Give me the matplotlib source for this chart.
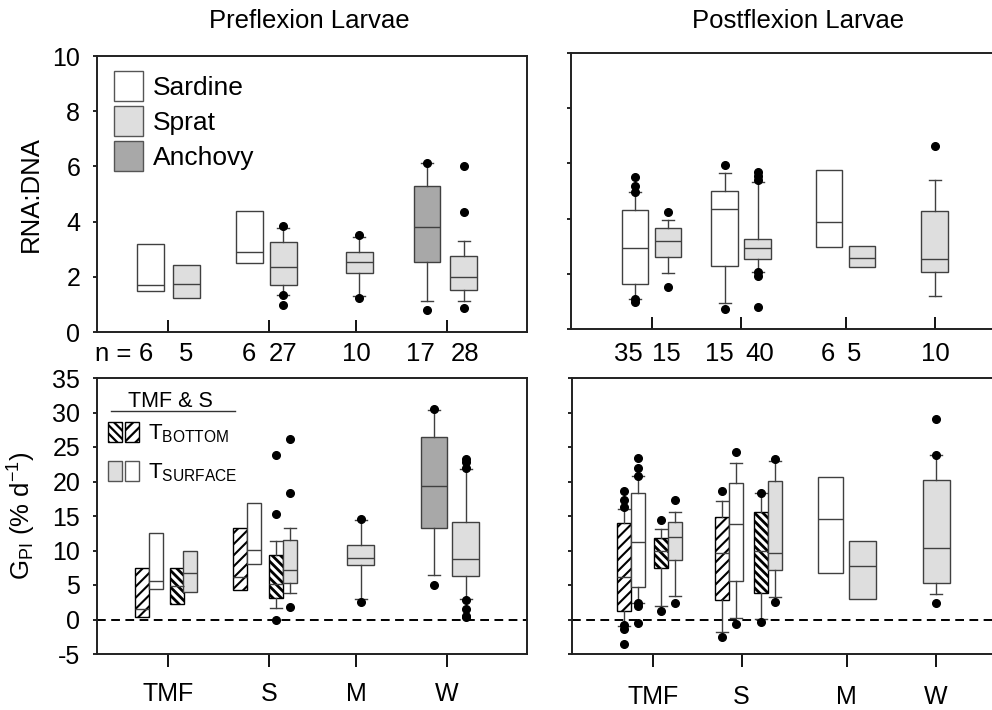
import numpy as np
import matplotlib.pyplot as plt
from matplotlib.patches import Patch
from matplotlib.legend_handler import HandlerTuple

plt.rcParams['font.family'] = ['Liberation Sans', 'DejaVu Sans']
plt.rcParams['mathtext.fontset'] = 'custom'
plt.rcParams['mathtext.rm'] = 'Liberation Sans'
plt.rcParams['mathtext.it'] = 'Liberation Sans:italic'
plt.rcParams['mathtext.bf'] = 'Liberation Sans:bold'
plt.rcParams['axes.unicode_minus'] = False
plt.rcParams['hatch.linewidth'] = 1.6

groups = ['TMF', 'S', 'M', 'W']

# ---- Preflexion, RNA:DNA
pre_rna_kind = ['sardine', 'sprat', 'sardine', 'sprat', 'sprat', 'anchovy', 'sprat']
pre_rna_n = ['6', '5', '6', '27', '10', '17', '28']
pre_rna_q1 = [1.49, 1.24, 2.49, 1.70, 2.14, 2.52, 1.52]
pre_rna_med = [1.69, 1.75, 2.90, 2.34, 2.52, 3.81, 2.00]
pre_rna_q3 = [3.19, 2.42, 4.39, 3.25, 2.89, 5.30, 2.75]
pre_rna_lo = [None, None, None, 1.35, 1.29, 1.11, 1.12]
pre_rna_hi = [None, None, None, 3.76, 3.46, 6.11, 3.30]
pre_rna_out = [[], [], [], [3.84, 1.33, 0.98], [3.52, 1.25], [6.14, 0.78],
               [6.0, 4.35, 0.88]]

# ---- Postflexion, RNA:DNA
post_rna_kind = ['sardine', 'sprat', 'sardine', 'sprat', 'sardine', 'sprat', 'sprat']
post_rna_n = ['35', '15', '15', '40', '6', '5', '10']
post_rna_q1 = [1.63, 2.61, 2.28, 2.55, 2.96, 2.24, 2.06]
post_rna_med = [2.95, 3.18, 4.34, 2.95, 3.88, 2.59, 2.53]
post_rna_q3 = [4.31, 3.66, 5.01, 3.27, 5.75, 3.02, 4.29]
post_rna_lo = [1.10, 2.02, 0.96, 2.08, None, None, 1.18]
post_rna_hi = [4.95, 3.96, 5.66, 5.34, None, None, 5.40]
post_rna_out = [[5.49, 5.19, 4.98, 1.08, 0.98], [4.24, 1.53], [5.93, 0.71],
                [5.70, 5.54, 5.40, 2.06, 1.93, 0.78], [], [], [6.63]]

# ---- Preflexion, GPI
pre_g_kind = ['sardine_b', 'sardine', 'sprat_b', 'sprat',
              'sardine_b', 'sardine', 'sprat_b', 'sprat',
              'sprat', 'anchovy', 'sprat']
pre_g_q1 = [0.4, 4.46, 2.2, 3.93, 4.26, 8.0, 3.15, 5.23, 7.83, 13.3, 6.3]
pre_g_med = [1.5, 5.6, 4.9, 6.73, 6.2, 10.05, 5.1, 7.2, 8.94, 19.3, 8.8]
pre_g_q3 = [7.5, 12.5, 7.45, 9.96, 13.2, 16.95, 9.33, 11.5, 10.73, 26.5, 14.16]
pre_g_lo = [None, None, None, None, None, None, 1.7, 3.78, 2.9, 6.5, 3.0]
pre_g_hi = [None, None, None, None, None, None, 11.36, 13.2, 14.35, 30.3, 21.8]
pre_g_out = [[], [], [], [], [], [], [23.85, 15.27, 0.0], [26.2, 18.35, 1.8],
             [14.5, 2.48], [30.56, 5.0], [23.3, 22.8, 21.97, 2.82, 1.47, 0.55, 0.3]]

# ---- Postflexion, GPI
post_g_kind = ['sardine_b', 'sardine', 'sprat_b', 'sprat',
               'sardine_b', 'sardine', 'sprat_b', 'sprat',
               'sardine', 'sprat', 'sprat']
post_g_q1 = [1.2, 4.75, 7.4, 8.58, 2.76, 5.6, 3.87, 7.2, 6.7, 2.9, 5.3]
post_g_med = [6.1, 11.2, 10.0, 12.0, 9.7, 13.8, 10.0, 9.7, 14.5, 7.7, 10.3]
post_g_q3 = [14.0, 18.4, 11.8, 14.15, 14.8, 19.8, 15.55, 20.07, 20.6, 11.4, 20.16]
post_g_lo = [-0.87, 2.38, 2.0, 3.4, -1.84, 0.24, 0.1, 3.25, None, None, 3.7]
post_g_hi = [16.04, 20.8, 13.1, 15.6, 17.2, 22.7, 18.3, 23.0, None, None, 23.8]
post_g_out = [[18.56, 17.3, 16.3, -0.8, -1.36, -3.5], [23.4, 21.96, 20.8, 2.4, 1.94, -0.53],
              [14.35, 1.2], [17.35, 2.4], [18.56, -2.47], [24.3, -0.6],
              [18.4, -0.4], [23.2, 2.5], [], [], [29.1, 23.9, 2.4]]

# layout (x positions in axis units)
pre_ticks = [0.71, 1.72, 2.59, 3.50]
post_ticks = [0.81, 1.695, 2.745, 3.64]
pre_rna_pos = [0.53, 0.89, 1.525, 1.86, 2.62, 3.30, 3.665]
post_rna_pos = [0.64, 0.97, 1.535, 1.865, 2.58, 2.91, 3.635]
pre_n_pos = [0.49, 0.895, 1.52, 1.86, 2.595, 3.23, 3.68]
post_n_pos = [0.575, 0.955, 1.485, 1.885, 2.565, 2.83, 3.64]
pre_g_pos = [0.45, 0.59, 0.795, 0.93, 1.43, 1.57, 1.79, 1.93, 2.635, 3.37, 3.685]
post_g_pos = [0.52, 0.66, 0.89, 1.025, 1.50, 1.64, 1.89, 2.025, 2.585, 2.905, 3.64]
half_w = [0.14] * 8

face = {'sardine': 'white', 'sprat': '#dedede', 'anchovy': '#a8a8a8',
        'sardine_b': 'white', 'sprat_b': 'white'}
hatch = {'sardine': None, 'sprat': None, 'anchovy': None,
         'sardine_b': '///', 'sprat_b': '\\\\\\\\'}
hatch_lw = {'sardine_b': 1.5, 'sprat_b': 2.0}
edge = '#404040'


def draw_boxes(ax, pos, widths, kind, q1, med, q3, lo, hi, out):
    stats = []
    for i in range(len(q1)):
        stats.append(dict(q1=q1[i], med=med[i], q3=q3[i],
                          whislo=q1[i] if lo[i] is None else lo[i],
                          whishi=q3[i] if hi[i] is None else hi[i],
                          fliers=out[i]))
    bp = ax.bxp(stats, positions=pos, widths=widths, patch_artist=True,
                manage_ticks=False, capwidths=0.12,
                boxprops=dict(edgecolor=edge, linewidth=1.0),
                medianprops=dict(color=edge, linewidth=1.0),
                whiskerprops=dict(color=edge, linewidth=1.0),
                capprops=dict(color=edge, linewidth=1.0),
                flierprops=dict(marker='o', markerfacecolor='black',
                                markeredgecolor='black', markersize=5.5))
    for i, (box, k) in enumerate(zip(bp['boxes'], kind)):
        box.set_facecolor(face[k])
        if hatch[k]:
            box.set_hatch(hatch[k])
            box.set_edgecolor('black')
            if hasattr(box, 'set_hatch_linewidth'):
                box.set_hatch_linewidth(hatch_lw[k])
        if lo[i] is None:
            bp['caps'][2 * i].set_visible(False)
            bp['caps'][2 * i + 1].set_visible(False)
    return bp


W, H = 992, 710
fig = plt.figure(figsize=(W / 100, H / 100), dpi=100)


def px_axes(x0, y0, x1, y1):
    return fig.add_axes([x0 / W, 1 - y1 / H, (x1 - x0) / W, (y1 - y0) / H])


ax_tl = px_axes(97, 56, 527, 332)
ax_tr = px_axes(571, 53, 1001, 329)
ax_bl = px_axes(97, 378, 527, 654)
ax_br = px_axes(572, 378, 1002, 654)

draw_boxes(ax_tl, pre_rna_pos, 0.27, pre_rna_kind, pre_rna_q1, pre_rna_med,
           pre_rna_q3, pre_rna_lo, pre_rna_hi, pre_rna_out)
draw_boxes(ax_tr, post_rna_pos, 0.265, post_rna_kind, post_rna_q1, post_rna_med,
           post_rna_q3, post_rna_lo, post_rna_hi, post_rna_out)
draw_boxes(ax_bl, pre_g_pos, half_w + [0.27, 0.26, 0.27], pre_g_kind, pre_g_q1,
           pre_g_med, pre_g_q3, pre_g_lo, pre_g_hi, pre_g_out)
draw_boxes(ax_br, post_g_pos, half_w + [0.25, 0.27, 0.27], post_g_kind, post_g_q1,
           post_g_med, post_g_q3, post_g_lo, post_g_hi, post_g_out)

for ax in (ax_tl, ax_tr, ax_bl, ax_br):
    ax.set_xlim(0, 4.3)
    for s in ax.spines.values():
        s.set_linewidth(1.4)
        s.set_color('#202020')
    ax.tick_params(axis='y', direction='out', length=3, width=1.2, labelsize=18, pad=9)

for ax in (ax_tl, ax_tr):
    ax.set_ylim(0, 10)
    ax.set_yticks(np.arange(0, 11, 2))
    ax.tick_params(axis='x', direction='in', length=9, width=1.3, labelbottom=False)
for ax in (ax_bl, ax_br):
    ax.set_ylim(-5, 35)
    ax.set_yticks(np.arange(-5, 36, 5))
    ax.axhline(0, color='black', lw=1.4, ls=(0, (4.5, 2.8)), zorder=0)

ax_tl.set_xticks(pre_ticks)
ax_bl.set_xticks(pre_ticks)
ax_tr.set_xticks(post_ticks)
ax_br.set_xticks(post_ticks)
ax_bl.set_xticklabels(groups)
ax_br.set_xticklabels(groups)
ax_bl.tick_params(axis='x', direction='out', length=9, width=1.3, labelsize=18, pad=11)
ax_br.tick_params(axis='x', direction='out', length=9, width=1.3, labelsize=18, pad=13)
ax_tr.tick_params(axis='y', labelleft=False)
ax_br.tick_params(axis='y', labelleft=False)

ax_tl.set_ylabel('RNA:DNA', fontsize=18.5)
ax_tl.yaxis.set_label_coords(-0.125, 0.5)
ax_bl.set_ylabel(r'G$_{\mathrm{PI}}$ (% d$^{\mathrm{-1}}$)', fontsize=18.5)
ax_bl.yaxis.set_label_coords(-0.137, 0.5)

# sample sizes
for x, n in zip(pre_n_pos, pre_rna_n):
    ax_tl.text(x, -0.08, n, transform=ax_tl.get_xaxis_transform(),
               ha='center', va='center', fontsize=18.5)
ax_tl.text(pre_n_pos[0] - 0.075, -0.08, 'n = ', transform=ax_tl.get_xaxis_transform(),
           ha='right', va='center', fontsize=18.5)
for x, n in zip(post_n_pos, post_rna_n):
    ax_tr.text(x, -0.09, n, transform=ax_tr.get_xaxis_transform(),
               ha='center', va='center', fontsize=18.5)

fig.text(309.5 / W, 1 - 21 / H, 'Preflexion Larvae', ha='center', va='center', fontsize=18.5)
fig.text(798 / W, 1 - 21 / H, 'Postflexion Larvae', ha='center', va='center', fontsize=18.5)

# species legend
sp_handles = [Patch(facecolor=face[k], edgecolor='#555555', lw=1.0)
              for k in ('sardine', 'sprat', 'anchovy')]
ax_tl.legend(sp_handles, ['Sardine', 'Sprat', 'Anchovy'], loc='upper left',
             bbox_to_anchor=(0.0395, 0.945), frameon=False, fontsize=19,
             handlelength=1.1, handleheight=1.35, handletextpad=0.38,
             labelspacing=0.2, borderpad=0, borderaxespad=0)

# temperature legend
h_bot = (Patch(facecolor='white', edgecolor='black', hatch='\\\\\\\\', lw=1.0),
         Patch(facecolor='white', edgecolor='black', hatch='///', lw=1.0))
h_surf = (Patch(facecolor=face['sprat'], edgecolor='#555555', lw=1.0),
          Patch(facecolor='white', edgecolor='#555555', lw=1.0))
ax_bl.legend([h_bot, h_surf], [r'T$_{\mathrm{BOTTOM}}$', r'T$_{\mathrm{SURFACE}}$'],
             handler_map={tuple: HandlerTuple(ndivide=None, pad=0.14)},
             loc='upper left', bbox_to_anchor=(0.0256, 0.842), frameon=False,
             fontsize=16, handlelength=1.4, handleheight=1.05, handletextpad=0.4,
             labelspacing=0.7, borderpad=0, borderaxespad=0)
ax_bl.text(0.17, 0.915, 'TMF & S', transform=ax_bl.transAxes, ha='center',
           va='center', fontsize=15.5)
ax_bl.plot([0.033, 0.321], [0.88, 0.88], transform=ax_bl.transAxes,
           color='#333333', lw=1.0)

fig.savefig('out.png', dpi=100)
